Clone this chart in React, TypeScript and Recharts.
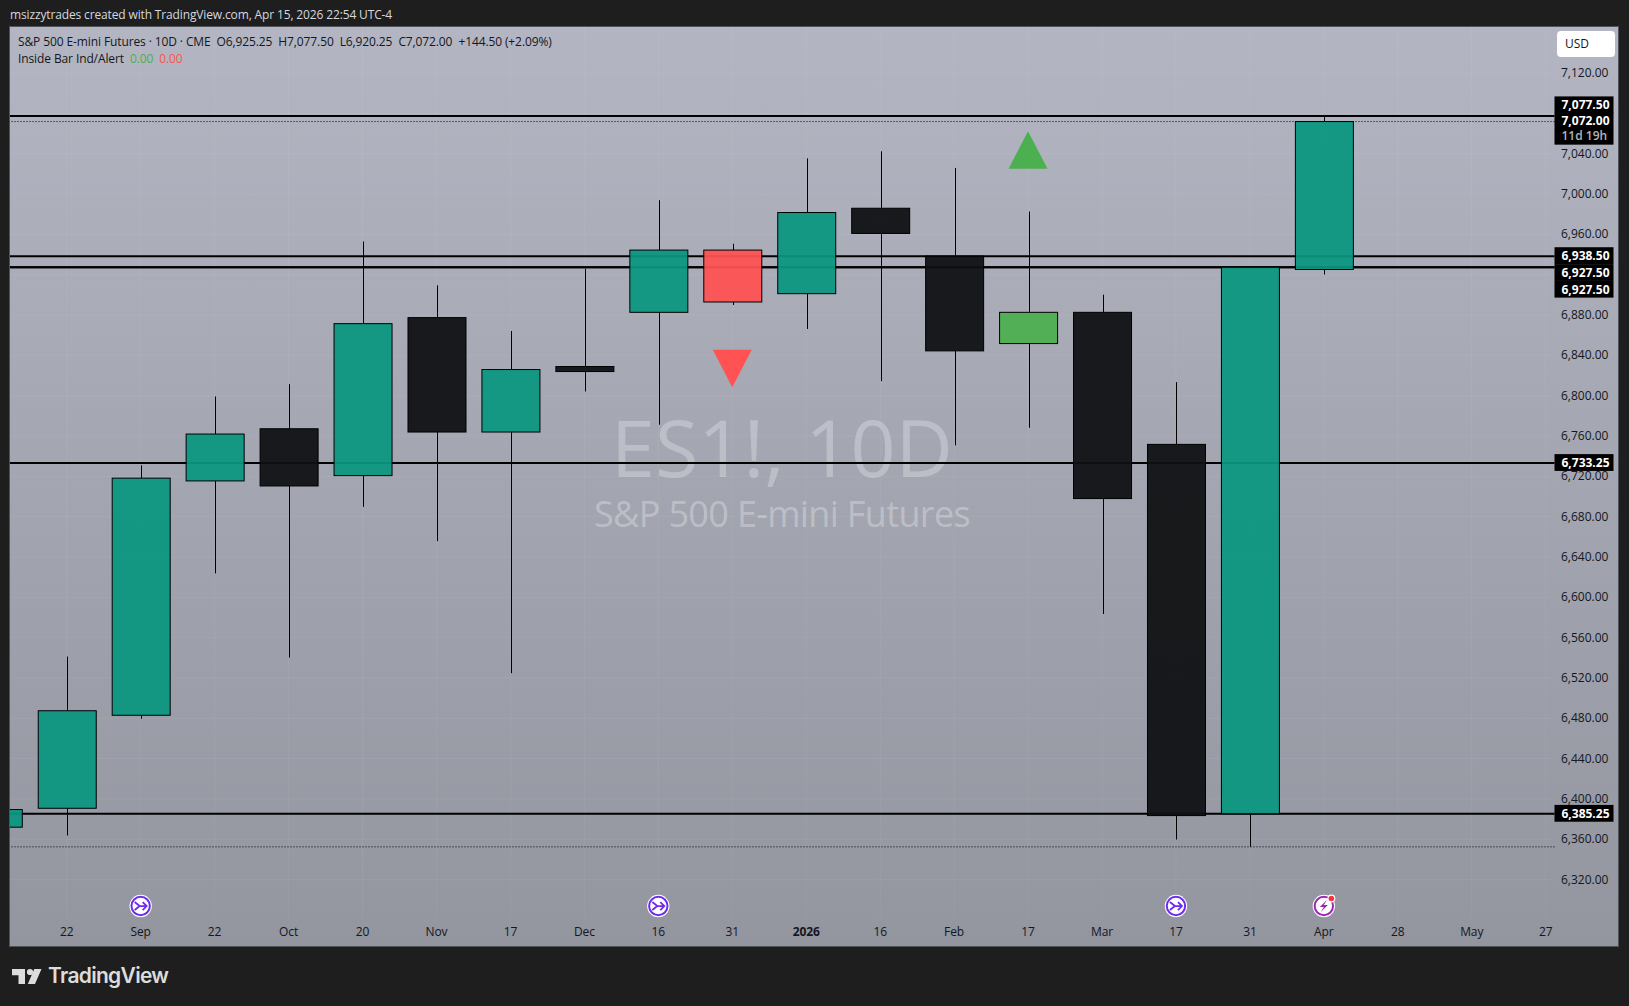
import React from 'react';
import {
  Bar,
  CartesianGrid,
  ComposedChart,
  ReferenceLine,
  Scatter,
  XAxis,
  YAxis,
} from 'recharts';

const FONT = '"Open Sans", "Noto Sans", sans-serif';
const INK = '#131722';
const TEAL = '#0b9680';
const BLACK = '#0f1012';

const slots = [-1, 0, 1, 2, 3, 4, 5, 6, 7, 8, 9, 10, 11, 12, 13, 14, 15, 16, 17];
const opens = [6372, 6390.75, 6483, 6715.5, 6767.25, 6720.75, 6877.5, 6764, 6829, 6882.75, 6944.5, 6901.25, 6986, 6938.5, 6851.75, 6882.75, 6751.75, 6385.25, 6925.25];
const highs = [6395, 6541.25, 6731, 6799.25, 6811.5, 6953, 6909.5, 6864.25, 6926, 6994, 6950.75, 7035.5, 7042.5, 7026, 6982.75, 6900.25, 6813.5, 6927.5, 7077.5];
const lows = [6360, 6363.75, 6479.5, 6623.75, 6540.25, 6689.75, 6655.75, 6524.75, 6804.25, 6771.25, 6890, 6866.25, 6814.5, 6750.75, 6768.25, 6583.5, 6359.75, 6352.5, 6920.25];
const closes = [6389.5, 6487.5, 6718.25, 6762, 6710.5, 6871.5, 6764, 6826, 6824, 6944.5, 6893, 6981.75, 6961, 6844.5, 6882.75, 6698, 6383.5, 6927.5, 7072];
const tones = ['up', 'up', 'up', 'up', 'down', 'up', 'down', 'up', 'down', 'up', 'red', 'up', 'down', 'down', 'green', 'down', 'down', 'up', 'up'];

const timeLabels = ['22', 'Sep', '22', 'Oct', '20', 'Nov', '17', 'Dec', '16', '31', '2026', '16', 'Feb', '17', 'Mar', '17', '31', 'Apr', '28', 'May', '27'];
const priceTicks = [7120, 7040, 7000, 6960, 6880, 6840, 6800, 6760, 6720, 6680, 6640, 6600, 6560, 6520, 6480, 6440, 6400, 6360, 6320];
const gridPrices = [7120, 7080, 7040, 7000, 6960, 6920, 6880, 6840, 6800, 6760, 6720, 6680, 6640, 6600, 6560, 6520, 6480, 6440, 6400, 6360, 6320];

const levels = [7077.5, 6938.5, 6927.5, 6733.25, 6385.25];
const dottedLevels = [7072, 6352.5];

const sellSignals = [{ slot: 9, price: 6827 }];
const buySignals = [{ slot: 13, price: 7043.75 }];
const splitEvents = [{ slot: 1, price: 6293.75 }, { slot: 8, price: 6293.75 }, { slot: 15, price: 6293.75 }];
const boltEvents = [{ slot: 17, price: 6293.75 }];

const candles = slots.map((slot, i) => ({
  slot,
  range: [lows[i], highs[i]],
  open: opens[i],
  close: closes[i],
  high: highs[i],
  low: lows[i],
  tone: tones[i],
}));

const toneFill = { up: TEAL, down: BLACK, red: '#ff5252', green: '#4caf50' };

const money = (v: number) =>
  v.toLocaleString('en-US', { minimumFractionDigits: 2, maximumFractionDigits: 2 });

const Candle = ({ x, y, width, height, payload }: any) => {
  const { open, close, high, low, tone } = payload;
  const toY = (v: number) => y + ((high - v) / (high - low)) * height;
  const cx = Math.round(x + width / 2) + 1.5;
  const top = toY(Math.max(open, close));
  const bottom = toY(Math.min(open, close));
  return (
    <g>
      <line x1={cx} x2={cx} y1={y} y2={top} stroke="#000" strokeWidth={1} />
      <line x1={cx} x2={cx} y1={bottom} y2={y + height} stroke="#000" strokeWidth={1} />
      <rect
        x={x + 1.5}
        y={top}
        width={width - 1}
        height={bottom - top}
        fill={toneFill[tone]}
        fillOpacity={0.94}
        stroke="#000"
        strokeWidth={1}
      />
    </g>
  );
};

const Triangle = ({ cx, cy, fill, flip }: any) => {
  const h = flip ? -18.7 : 18.7;
  return <path d={`M${cx} ${cy - h}L${cx + 19.5} ${cy + h}L${cx - 19.5} ${cy + h}Z`} fill={fill} />;
};

const SplitIcon = ({ cx, cy }: any) => (
  <g>
    <circle cx={cx} cy={cy} r={11.2} fill="#fff" />
    <circle cx={cx} cy={cy} r={9.2} fill="none" stroke="#6c2bf0" strokeWidth={2} />
    <path
      d={`M${cx - 6} ${cy - 4}L${cx - 1} ${cy}L${cx - 6} ${cy + 4}M${cx - 1} ${cy}H${cx + 6}M${cx + 2} ${cy - 4}L${cx + 6} ${cy}L${cx + 2} ${cy + 4}`}
      fill="none"
      stroke="#6c2bf0"
      strokeWidth={1.8}
    />
  </g>
);

const BoltIcon = ({ cx, cy }: any) => (
  <g>
    <circle cx={cx} cy={cy} r={11.2} fill="#fff" />
    <circle cx={cx} cy={cy} r={9.2} fill="none" stroke="#9c27b0" strokeWidth={2} />
    <path
      d={`M${cx + 3} ${cy - 6}L${cx - 4} ${cy + 1}H${cx}L${cx - 3} ${cy + 6}L${cx + 4} ${cy - 1}H${cx}Z`}
      fill="#9c27b0"
    />
    <circle cx={cx + 7.5} cy={cy - 7.5} r={4} fill="#fff" />
    <circle cx={cx + 7.5} cy={cy - 7.5} r={2.8} fill="#f23645" />
  </g>
);

const TimeTick = ({ x, y, payload }: any) => {
  const text = timeLabels[payload.value];
  return (
    <text
      x={x}
      y={y}
      dy={10}
      textAnchor="middle"
      fontFamily={FONT}
      fontSize={12}
      letterSpacing={-0.1}
      fontWeight={text === '2026' ? 700 : 400}
      fill={INK}
    >
      {text}
    </text>
  );
};

const PriceTick = ({ x, y, payload }: any) => (
  <text x={x - 1.5} y={y} dy={4} fontFamily={FONT} fontSize={12} fill={INK}>
    {money(payload.value)}
  </text>
);

// tag on the price scale, nudge keeps stacked tags from overlapping
const PriceTag = ({ viewBox, text, nudge = 0, sub }: any) => {
  const cy = viewBox.y + nudge;
  const left = viewBox.x + viewBox.width;
  return (
    <g>
      <rect x={left} y={cy - 8.4} width={59} height={sub ? 32 : 16.8} fill="#000" />
      <text x={left + 7} y={cy + 4.3} fontFamily={FONT} fontSize={12} fontWeight={700} fill="#fff">
        {text}
      </text>
      {sub && (
        <text x={left + 7} y={cy + 18.5} fontFamily={FONT} fontSize={12} fontWeight={600} fill="#b2b5be">
          {sub}
        </text>
      )}
    </g>
  );
};

const tagNudge = { 7077.5: -11.2, 6938.5: -0.5, 6927.5: 5.3, 6733.25: -0.5, 6385.25: -0.5 };

export default function App() {
  return (
    <div style={{ position: 'absolute', left: 0, top: 0, width: 1629, height: 1006, background: '#1e1e1e', overflow: 'hidden', fontFamily: FONT }}>
      <div style={{ position: 'absolute', left: 10, top: 6, fontSize: 12, lineHeight: '18px', letterSpacing: -0.14, color: '#d6d8de' }}>
        msizzytrades created with TradingView.com, Apr 15, 2026 22:54 UTC-4
      </div>
      <div
        style={{
          position: 'absolute',
          left: 10,
          top: 27,
          width: 1608,
          height: 919,
          boxSizing: 'border-box',
          background: 'linear-gradient(180deg, #b3b6c2 0%, #93959f 100%)',
          outline: '1.5px solid #50525a',
        }}
      />
      <div style={{ position: 'absolute', left: 10, width: 1544, top: 397, textAlign: 'center', color: 'rgba(255,255,255,0.27)', fontSize: 79, fontWeight: 500, lineHeight: '100px' }}>
        ES1!, 10D
      </div>
      <div style={{ position: 'absolute', left: 10, width: 1544, top: 488, textAlign: 'center', color: 'rgba(255,255,255,0.3)', fontSize: 36, letterSpacing: -0.65, lineHeight: '52px' }}>
        S&amp;P 500 E-mini Futures
      </div>
      <div style={{ position: 'absolute', left: 0, top: 0 }}>
        <ComposedChart
          width={1629}
          height={1006}
          data={candles}
          margin={{ top: 27, right: 10.5, bottom: 60, left: 10 }}
        >
          <CartesianGrid
            stroke="rgba(255,255,255,0.06)"
            horizontalValues={gridPrices}
            verticalValues={timeLabels.map((_, i) => i)}
          />
          <XAxis
            dataKey="slot"
            type="number"
            domain={[-0.767, 20.119]}
            allowDataOverflow
            ticks={timeLabels.map((_, i) => i)}
            interval={0}
            height={28}
            axisLine={false}
            tickLine={false}
            tick={<TimeTick />}
          />
          <YAxis
            orientation="right"
            type="number"
            domain={[6281.9, 7165.8]}
            allowDataOverflow
            ticks={priceTicks}
            interval={0}
            width={64}
            axisLine={false}
            tickLine={false}
            tick={<PriceTick />}
          />
          {levels.map(v => (
            <ReferenceLine
              key={v}
              y={v}
              stroke="#000"
              strokeWidth={2}
              label={<PriceTag text={money(v)} nudge={tagNudge[v]} />}
            />
          ))}
          <ReferenceLine y={6927.5} stroke="#000" strokeWidth={2} label={<PriceTag text={money(6927.5)} nudge={22} />} />
          {dottedLevels.map(v => (
            <ReferenceLine key={v} y={v} stroke="#000" strokeWidth={1} strokeDasharray="1 2" />
          ))}
          <ReferenceLine y={7072} stroke="none" label={<PriceTag text={money(7072)} nudge={-0.5} sub="11d 19h" />} />
          <Bar dataKey="range" barSize={59} shape={<Candle />} isAnimationActive={false} zIndex={450} />
          <Scatter data={sellSignals} dataKey="price" shape={<Triangle fill="#ff5252" flip />} isAnimationActive={false} />
          <Scatter data={buySignals} dataKey="price" shape={<Triangle fill="#4caf50" />} isAnimationActive={false} />
          <Scatter data={splitEvents} dataKey="price" shape={<SplitIcon />} isAnimationActive={false} />
          <Scatter data={boltEvents} dataKey="price" shape={<BoltIcon />} isAnimationActive={false} />
        </ComposedChart>
      </div>
      <div style={{ position: 'absolute', left: 18, top: 33, fontSize: 12, lineHeight: '18px', letterSpacing: -0.11, color: INK, whiteSpace: 'pre' }}>
        {'S&P 500 E-mini Futures · 10D · CME  O6,925.25  H7,077.50  L6,920.25  C7,072.00  +144.50 (+2.09%)'}
      </div>
      <div style={{ position: 'absolute', left: 18, top: 50, fontSize: 12, lineHeight: '18px', letterSpacing: -0.11, color: INK, whiteSpace: 'pre' }}>
        {'Inside Bar Ind/Alert  '}
        <span style={{ color: '#4caf50' }}>0.00</span>
        {'  '}
        <span style={{ color: '#ff5252' }}>0.00</span>
      </div>
      <div style={{ position: 'absolute', left: 1557, top: 31, width: 58, height: 26, boxSizing: 'border-box', background: '#fff', borderRadius: 4, fontSize: 12, lineHeight: '26px', paddingLeft: 8, color: INK }}>
        USD
      </div>
      <svg style={{ position: 'absolute', left: 12, top: 966 }} width={32} height={20} viewBox="0 0 32 20">
        <path d="M13 3H0v6.2h6.5V18H13V3Z M29.5 3H22.3L15.8 18h7.2L29.5 3Z" fill="#dcdcdc" />
        <circle cx={18} cy={6} r={3.1} fill="#dcdcdc" />
      </svg>
      <div style={{ position: 'absolute', left: 48, top: 960, fontSize: 21, lineHeight: '32px', fontWeight: 600, fontFamily: 'Inter, sans-serif', color: '#dcdcdc', letterSpacing: -0.7 }}>
        TradingView
      </div>
    </div>
  );
}
